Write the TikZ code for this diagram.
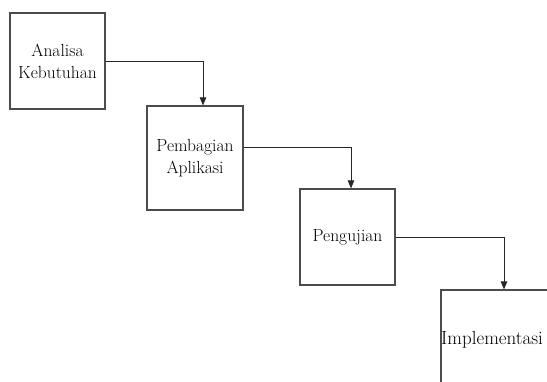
\documentclass[tikz,border=0pt]{standalone}
\usetikzlibrary{arrows.meta}
\begin{document}
\begin{tikzpicture}[x=1pt,y=-1pt,
  stagebox/.style={draw=black!70,line width=1.2pt,rectangle,inner sep=0pt,align=center,
    font=\fontsize{17.5}{22}\selectfont},
  flow/.style={draw=black!85,line width=0.8pt,-{Triangle[length=8pt,width=6.5pt]}},
  lbl/.style={inner sep=0pt,font=\fontsize{19}{22}\selectfont}]
\useasboundingbox (0,0) rectangle (547,382);
\node[stagebox,minimum width=95pt,minimum height=96pt] (b1) at (57.5,61) {Analisa\\Kebutuhan};
\node[stagebox,minimum width=96pt,minimum height=104pt] (b2) at (195,158) {Pembagian\\Aplikasi};
\node[stagebox,minimum width=95pt,minimum height=96pt] (b3) at (347.5,237) {Pengujian};
\node[stagebox,minimum width=120pt,minimum height=110pt] (b4) at (501,345) {};
\node[lbl,anchor=base west] (t4) at (441,345) {Implementasi};
\draw[flow] (b1.east) -| ([xshift=8pt]b2.north);
\draw[flow] ([yshift=11pt]b2.east) -| ([xshift=3.5pt]b3.north);
\draw[flow] (b3.east) -| ([xshift=3pt]b4.north);
\end{tikzpicture}
\end{document}
